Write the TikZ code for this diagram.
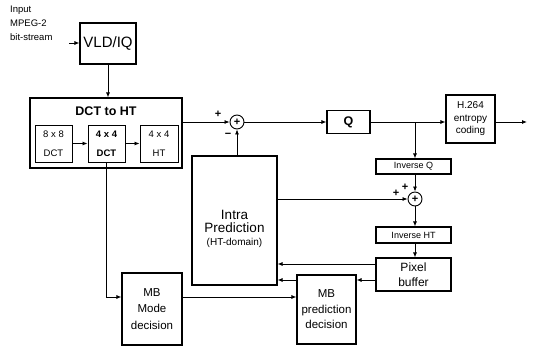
\documentclass[tikz,border=0pt]{standalone}
\usepackage{fontspec}
\setmainfont{Liberation Sans}
\usetikzlibrary{arrows.meta,calc}
\begin{document}
\begin{tikzpicture}[x=1pt,y=-1pt,
  box/.style={draw,line width=1.1pt,inner sep=0pt,align=center},
  arr/.style={-{Latex[length=5pt,width=4pt]},line width=0.8pt},
  ln/.style={line width=0.8pt},
  sumnode/.style={draw,circle,line width=0.9pt,minimum size=14pt,inner sep=0pt,font=\fontsize{11}{11}\selectfont\bfseries},
  sgn/.style={inner sep=0pt,font=\fontsize{11}{11}\selectfont\bfseries},
  small/.style={font=\fontsize{9}{12}\selectfont},
  mid/.style={font=\fontsize{11.5}{16.5}\selectfont}]
\useasboundingbox (0,0) rectangle (533,348);

% input text
\node[anchor=north west,align=left,inner sep=0pt,font=\fontsize{9.5}{14}\selectfont] (inptxt) at (10,6) {Input\\MPEG-2\\bit-stream};
\coordinate (inp) at (69,43);

\node[box,minimum width=56pt,minimum height=41pt,font=\fontsize{15}{15}\selectfont] (vld) at (108,43.5) {VLD/IQ};

\node[box,minimum width=152pt,minimum height=70pt] (dct) at (106,133) {};
\node[inner sep=0pt,font=\fontsize{12.5}{12.5}\selectfont\bfseries] (dcttitle) at (106,111) {DCT to HT};
\node[box,line width=0.9pt,minimum width=37pt,minimum height=37pt,font=\fontsize{9.5}{19}\selectfont] (d8) at (53.5,143.5) {8 x 8\\DCT};
\node[box,line width=0.9pt,minimum width=37pt,minimum height=37pt,font=\fontsize{9.5}{19}\selectfont\bfseries] (d4) at (106.5,143.5) {4 x 4\\DCT};
\node[box,line width=0.9pt,minimum width=38pt,minimum height=37pt,font=\fontsize{9.5}{19}\selectfont] (ht4) at (159,143.5) {4 x 4\\HT};

\node[sumnode] (add1) at (237,122) {+};
\node[box,minimum width=43pt,minimum height=23pt,font=\fontsize{12.5}{12.5}\selectfont\bfseries] (q) at (348.5,122) {Q};
\node[box,minimum width=49pt,minimum height=48pt,font=\fontsize{10}{12.5}\selectfont] (h264) at (470.5,119) {H.264\\entropy\\coding};
\coordinate (out) at (527,122);
\coordinate (br) at (415,122);

\node[box,minimum width=75pt,minimum height=15pt,small] (invq) at (413.5,166.5) {Inverse Q};
\node[sumnode] (add2) at (415,199) {+};
\node[box,minimum width=75pt,minimum height=16pt,small] (invht) at (413.5,235) {Inverse HT};
\node[box,minimum width=75pt,minimum height=33pt,font=\fontsize{12}{15}\selectfont] (pix) at (413.5,274.5) {Pixel\\buffer};

\node[box,minimum width=85pt,minimum height=129pt] (intra) at (234.5,220.5) {};
\node[inner sep=0pt,align=center,font=\fontsize{13.5}{13.5}\selectfont] (intratxt) at (234.5,228.5) {Intra\\Prediction\\[-1pt]{\fontsize{10}{12}\selectfont (HT-domain)}};

\node[box,minimum width=60pt,minimum height=72pt,mid] (mbmode) at (152,309) {MB\\Mode\\decision};
\node[box,minimum width=59pt,minimum height=69pt,font=\fontsize{11.5}{15.5}\selectfont] (mbpred) at (326.5,309.5) {MB\\prediction\\decision};

% connectors
\draw[arr] (inp) -- (vld.west |- inp);
\draw[arr] (vld.south) -- (vld.south |- dct.north);
\draw[arr] (d8) -- (d4);
\draw[arr] (d4) -- (ht4);
\draw[arr] (dct.east |- add1) -- (add1);
\draw[arr] (add1) -- (q);
\draw[arr] (q.east) -- (h264.west |- q.east);
\draw[arr] (h264.east |- out) -- (out);
\draw[arr] (br) -- (br |- invq.north);
\draw[arr] (invq.south -| add2) -- (add2);
\draw[arr] (intra.east |- add2) -- (add2);
\draw[arr] (add2) -- (add2 |- invht.north);
\draw[arr] (invht.south -| add2) -- (add2 |- pix.north);
\draw[arr] (pix.west |- 0,264) -- (intra.east |- 0,264);
\draw[arr] (pix.west |- 0,280) -- (mbpred.east |- 0,280);
\draw[arr] (mbpred.west |- 0,280) -- (intra.east |- 0,280);
\draw[arr] (d4.south) -- (d4.south |- 0,297) -- (mbmode.west |- 0,297);
\draw[arr] (mbmode.east |- 0,297) -- (mbpred.west |- 0,297);
\draw[arr] (intra.north -| add1) -- (add1);

% signs
\node[sgn] (s1) at (218,114) {+};
\node[sgn] (s2) at (228,135) {\textminus};
\node[sgn] (s3) at (405,187) {+};
\node[sgn] (s4) at (396,193) {+};
\end{tikzpicture}
\end{document}
